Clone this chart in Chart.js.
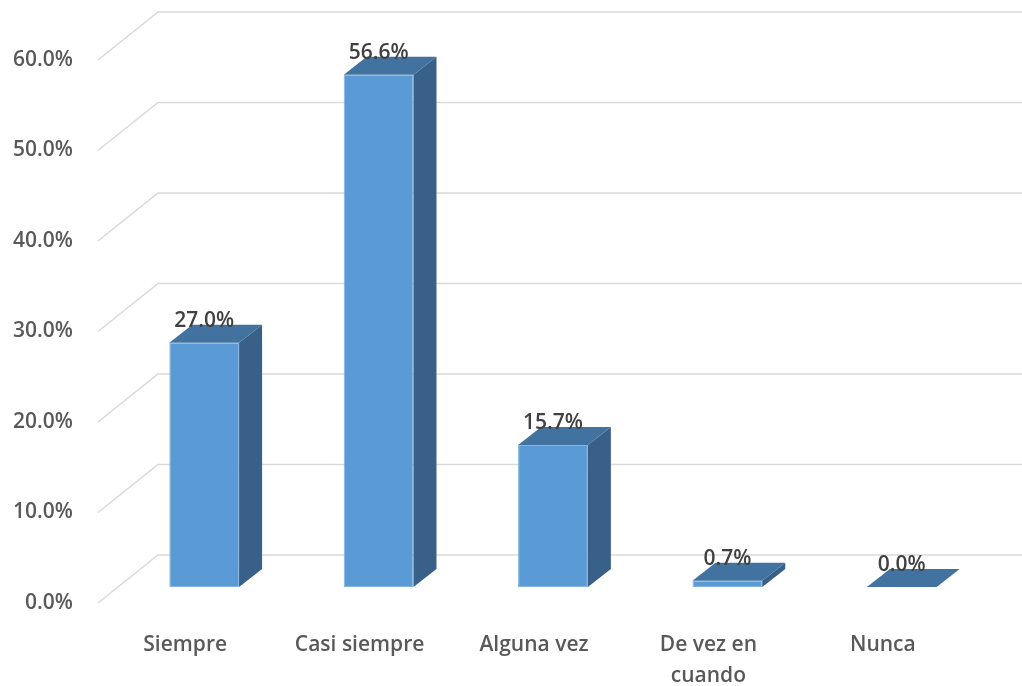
<!DOCTYPE html>
<html>
<head>
<meta charset="utf-8">
<script src="https://cdn.jsdelivr.net/npm/chart.js@4/dist/chart.umd.min.js"></script>
<style>
  html, body { margin: 0; padding: 0; background: #ffffff; }
  #wrap { width: 1022px; height: 686px; }
</style>
</head>
<body>
<div id="wrap"><canvas id="chart" width="1022" height="686"></canvas></div>
<script>
// Survey answers and their share of respondents (%)
const categories = ['Siempre', 'Casi siempre', 'Alguna vez', ['De vez en', 'cuando'], 'Nunca'];
const percentages = [27.0, 56.6, 15.7, 0.7, 0.0];
const axisMin = 0;
const axisMax = 60;
const axisStep = 10;

// Perspective settings for the 3D look
const WALL_DX = 60, WALL_DY = 48;     // floor depth used by the grid walls
const BAR_SHIFT_X = 19, BAR_SHIFT_Y = 16; // bars sit partway into the floor
const BAR_DX = 23, BAR_DY = 18;        // depth of each bar

const FRONT = '#5b9bd5';
const SIDE = '#386088';
const TOP = '#42729f';
const FONT = '"Open Sans", "Liberation Sans", sans-serif';

const fmt = v => v.toFixed(1) + '%';

const depthPlugin = {
  id: 'depth',
  beforeDatasetsDraw(chart) {
    const { ctx, chartArea, scales } = chart;
    const y = scales.y;
    // grid: diagonal along the floor, then straight across the back wall
    ctx.save();
    ctx.strokeStyle = '#d9d9d9';
    ctx.lineWidth = 1.6;
    y.ticks.forEach(t => {
      const py = y.getPixelForValue(t.value);
      ctx.beginPath();
      ctx.moveTo(chartArea.left, py);
      ctx.lineTo(chartArea.left + WALL_DX, py - WALL_DY);
      ctx.lineTo(chart.width, py - WALL_DY);
      ctx.stroke();
    });
    ctx.restore();
    ctx.save();
    ctx.translate(BAR_SHIFT_X, -BAR_SHIFT_Y);
  },
  afterDatasetsDraw(chart) {
    const { ctx } = chart;
    const meta = chart.getDatasetMeta(0);
    meta.data.forEach((bar, i) => {
      const { x, y, base, width } = bar.getProps(['x', 'y', 'base', 'width'], true);
      const l = x - width / 2, r = x + width / 2;
      // side face
      if (base - y > 0.5) {
        ctx.beginPath();
        ctx.moveTo(r, y);
        ctx.lineTo(r + BAR_DX, y - BAR_DY);
        ctx.lineTo(r + BAR_DX, base - BAR_DY);
        ctx.lineTo(r, base);
        ctx.closePath();
        ctx.fillStyle = SIDE;
        ctx.fill();
      }
      // top face
      ctx.beginPath();
      ctx.moveTo(l, y);
      ctx.lineTo(r, y);
      ctx.lineTo(r + BAR_DX, y - BAR_DY);
      ctx.lineTo(l + BAR_DX, y - BAR_DY);
      ctx.closePath();
      ctx.fillStyle = TOP;
      ctx.fill();
      // value label
      ctx.fillStyle = '#404040';
      ctx.font = '600 21px ' + FONT;
      ctx.textAlign = 'center';
      ctx.textBaseline = 'alphabetic';
      ctx.fillText(fmt(percentages[i]), x, y - BAR_DY + 2);
    });
    ctx.restore();
  }
};

new Chart(document.getElementById('chart'), {
  type: 'bar',
  data: {
    labels: categories,
    datasets: [{
      data: percentages,
      backgroundColor: FRONT,
      borderColor: '#86b5e2',
      borderWidth: 1,
      borderSkipped: false,
      barPercentage: 0.4,
      categoryPercentage: 1,
      clip: false
    }]
  },
  options: {
    responsive: false,
    animation: false,
    devicePixelRatio: 1,
    layout: { padding: { left: 0, right: 52, top: 60, bottom: 0 } },
    plugins: { legend: { display: false }, tooltip: { enabled: false } },
    scales: {
      x: {
        grid: { display: false, drawTicks: false },
        border: { display: false },
        ticks: {
          color: '#595959',
          font: { family: FONT, size: 21, weight: '600', lineHeight: 1.45 },
          padding: 27,
          maxRotation: 0,
          autoSkip: false
        },
        afterFit(scale) { scale.height = 83; }
      },
      y: {
        min: axisMin,
        max: axisMax,
        grid: { display: false, drawTicks: false },
        border: { display: false },
        ticks: {
          stepSize: axisStep,
          color: '#595959',
          font: { family: FONT, size: 21, weight: '600' },
          padding: 25,
          callback: v => fmt(v)
        },
        afterFit(scale) { scale.width = 98; }
      }
    }
  },
  plugins: [depthPlugin]
});
</script>
</body>
</html>
